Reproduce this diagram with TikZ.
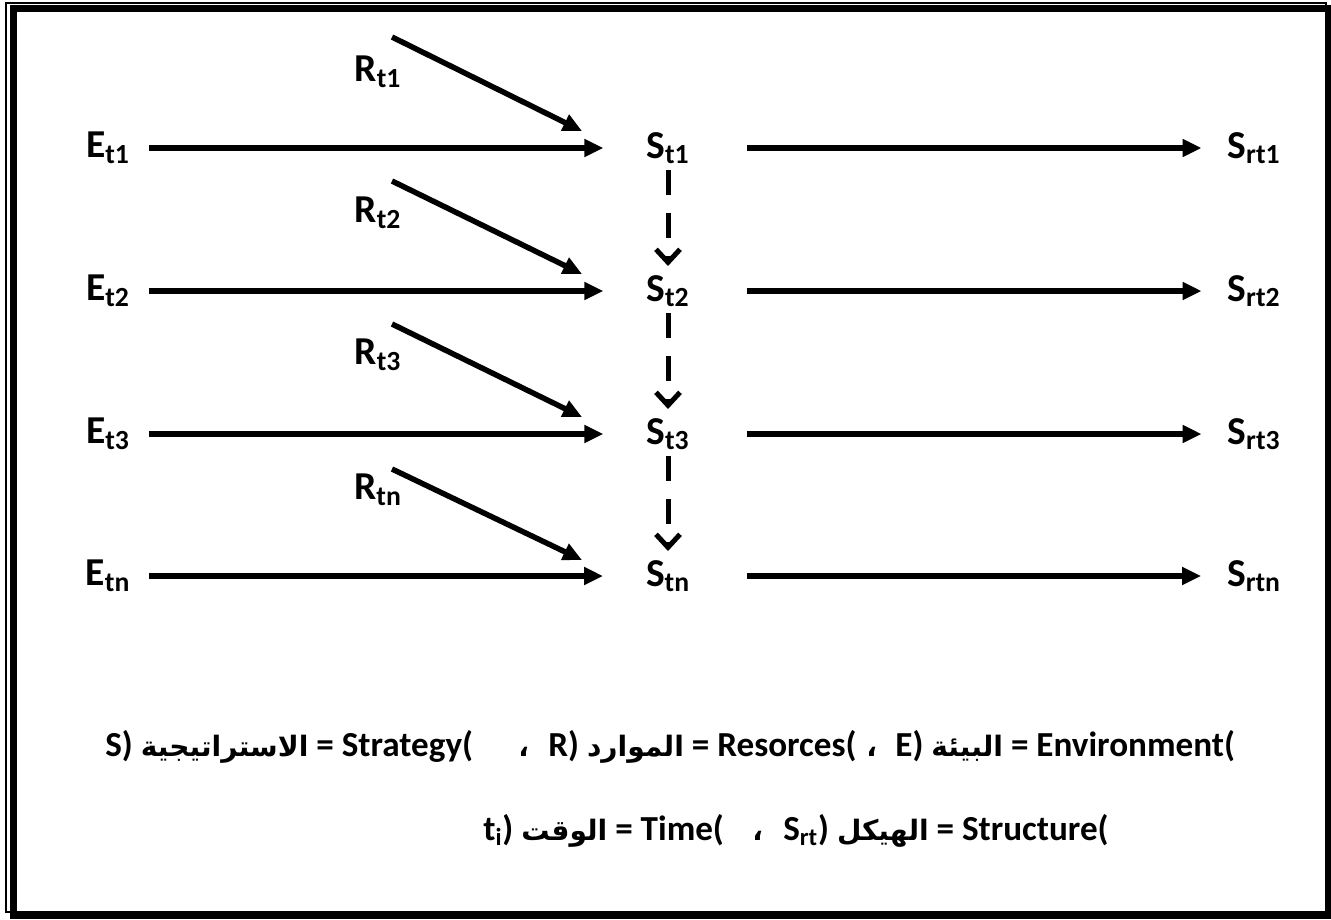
\documentclass[tikz,border=0pt]{standalone}
\usepackage{fontspec}
\setmainfont{Carlito}
\newfontfamily\arabicfont[Script=Arabic,Scale=0.8]{DejaVu Sans}
\TeXXeTstate=1
\usetikzlibrary{arrows.meta}
\newcommand{\artext}[1]{{\arabicfont\beginR #1\endR}}

\begin{document}
\begin{tikzpicture}[x=0.02cm, y=-0.02cm,
    lbl/.style={font=\fontsize{22.5}{26}\selectfont\bfseries, inner sep=0pt, outer sep=0pt},
    note/.style={font=\fontsize{20}{24}\selectfont\bfseries, inner sep=0pt, anchor=base west},
    arr/.style={-{Triangle[length=0.38cm,width=0.34cm]}, line width=0.11cm},
    darr/.style={-{Straight Barb[length=0.26cm,width=0.48cm]}, line width=0.1cm, dash pattern=on 0.5cm off 0.36cm}
  ]
    \useasboundingbox (0,0) rectangle (1331,919);

    % Frame (thin line + thick line)
    \draw[line width=0.03cm] (6,3) rectangle (1326,912);
    \draw[line width=0.13cm] (13.5,8.5) rectangle (1329,916);

    % Environment
    \node[lbl] (e1) at (108,148) {E\textsubscript{t1}};
    \node[lbl] (e2) at (108,291) {E\textsubscript{t2}};
    \node[lbl] (e3) at (108,434) {E\textsubscript{t3}};
    \node[lbl] (en) at (108,576) {E\textsubscript{tn}};

    % Strategy
    \node[lbl] (s1) at (668,148) {S\textsubscript{t1}};
    \node[lbl] (s2) at (668,291) {S\textsubscript{t2}};
    \node[lbl] (s3) at (668,434) {S\textsubscript{t3}};
    \node[lbl] (sn) at (668,576) {S\textsubscript{tn}};

    % Structure
    \node[lbl] (sr1) at (1254,148) {S\textsubscript{rt1}};
    \node[lbl] (sr2) at (1254,291) {S\textsubscript{rt2}};
    \node[lbl] (sr3) at (1254,434) {S\textsubscript{rt3}};
    \node[lbl] (srn) at (1254,576) {S\textsubscript{rtn}};

    % Resources
    \node[lbl] (r1) at (378,72)  {R\textsubscript{t1}};
    \node[lbl] (r2) at (378,213) {R\textsubscript{t2}};
    \node[lbl] (r3) at (378,355) {R\textsubscript{t3}};
    \node[lbl] (rn) at (378,490) {R\textsubscript{tn}};
    \coordinate (r1a) at (392,37);  \coordinate (r1b) at (582,131);
    \coordinate (r2a) at (392,181); \coordinate (r2b) at (582,274);
    \coordinate (r3a) at (392,324); \coordinate (r3b) at (582,417);
    \coordinate (rna) at (392,469); \coordinate (rnb) at (582,560);

    % Environment -> strategy
    \draw[arr, shorten <=0.38cm, shorten >=0.86cm] (e1.east) -- (s1.west);
    \draw[arr, shorten <=0.38cm, shorten >=0.86cm] (e2.east) -- (s2.west);
    \draw[arr, shorten <=0.38cm, shorten >=0.86cm] (e3.east) -- (s3.west);
    \draw[arr, shorten <=0.38cm, shorten >=0.86cm] (en.east) -- (sn.west);

    % Resources -> strategy
    \draw[arr] (r1a) -- (r1b);
    \draw[arr] (r2a) -- (r2b);
    \draw[arr] (r3a) -- (r3b);
    \draw[arr] (rna) -- (rnb);

    % Strategy -> structure
    \draw[arr, shorten <=1.14cm, shorten >=0.52cm] (s1.east) -- (sr1.west);
    \draw[arr, shorten <=1.14cm, shorten >=0.52cm] (s2.east) -- (sr2.west);
    \draw[arr, shorten <=1.14cm, shorten >=0.52cm] (s3.east) -- (sr3.west);
    \draw[arr, shorten <=1.14cm, shorten >=0.52cm] (sn.east) -- (srn.west);

    % Strategy over time (dashed)
    \draw[darr, shorten <=0.44cm, shorten >=0.5cm] (s1.center) -- (s2.center);
    \draw[darr, shorten <=0.44cm, shorten >=0.5cm] (s2.center) -- (s3.center);
    \draw[darr, shorten <=0.44cm, shorten >=0.5cm] (s3.center) -- (sn.center);

    % Legend
    \node[note] (n1) at (105,756) {S) \artext{الاستراتيجية} = Strategy(};
    \node[note] (c1) at (518,756) {\artext{،}};
    \node[note] (n2) at (548,756) {R) \artext{الموارد} = Resorces(};
    \node[note] (c2) at (866,756) {\artext{،}};
    \node[note] (n3) at (895,756) {E) \artext{البيئة} = Environment(};
    \node[note] (n4) at (483,840) {t\textsubscript{i}) \artext{الوقت} = Time(};
    \node[note] (c3) at (752,840) {\artext{،}};
    \node[note] (n5) at (783,840) {S\textsubscript{rt}) \artext{الهيكل} = Structure(};
  \end{tikzpicture}
\end{document}
